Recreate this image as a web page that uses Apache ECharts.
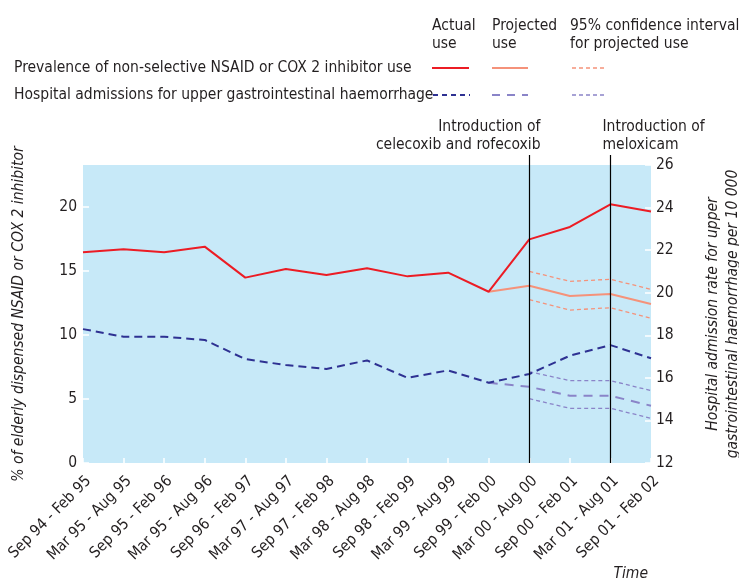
<!DOCTYPE html>
<html><head><meta charset="utf-8">
<script src="https://cdn.jsdelivr.net/npm/echarts@6/dist/echarts.min.js"></script>
<style>html,body{margin:0;padding:0;background:#fff}#c{width:739px;height:581px}</style>
</head><body><div id="c"></div>
<script>
const categories = ['Sep 94 - Feb 95','Mar 95 - Aug 95','Sep 95 - Feb 96','Mar 95 - Aug 96','Sep 96 - Feb 97','Mar 97 - Aug 97','Sep 97 - Feb 98','Mar 98 - Aug 98','Sep 98 - Feb 99','Mar 99 - Aug 99','Sep 99 - Feb 00','Mar 00 - Aug 00','Sep 00 - Feb 01','Mar 01 - Aug 01','Sep 01 - Feb 02'];
const prevActual    = [16.46,16.7,16.46,16.9,14.48,15.16,14.69,15.21,14.58,14.87,13.38,17.47,18.44,20.21,19.64];
const prevProjected = ['-','-','-','-','-','-','-','-','-','-',13.38,13.85,13.05,13.2,12.42];
const prevCIUpper   = ['-','-','-','-','-','-','-','-','-','-','-',14.97,14.19,14.35,13.57];
const prevCILower   = ['-','-','-','-','-','-','-','-','-','-','-',12.76,11.95,12.13,11.3];
const hospActual    = [18.29,17.93,17.93,17.78,16.88,16.6,16.42,16.82,16.0,16.35,15.77,16.18,17.04,17.54,16.92];
const hospProjected = ['-','-','-','-','-','-','-','-','-','-',15.77,15.58,15.16,15.16,14.69];
const hospCIUpper   = ['-','-','-','-','-','-','-','-','-','-','-',16.29,15.87,15.87,15.4];
const hospCILower   = ['-','-','-','-','-','-','-','-','-','-','-',15.02,14.57,14.57,14.1];
const leftAxisRange  = [0, 23.28];
const leftTicks      = [0, 5, 10, 15, 20];
const rightAxisRange = [12, 26];
const events = [
  {cat:'Mar 00 - Aug 00', text:'Introduction of\ncelecoxib and rofecoxib', align:'right'},
  {cat:'Mar 01 - Aug 01', text:'Introduction of\nmeloxicam', align:'left'}
];
const legendRows = ['Prevalence of non-selective NSAID or COX 2 inhibitor use','Hospital admissions for upper gastrointestinal haemorrhage'];
const legendCols = ['Actual\nuse','Projected\nuse','95% confidence interval\nfor projected use'];

const FONT = "'Liberation Sans Narrow','DejaVu Sans Condensed','Arial Narrow',sans-serif";
const FS = 15.5;
const TXT = '#231f20';
const RED='#ec1c24', SALMON='#f5927a', NAVY='#2e3192', LAV='#8a84c8';

const chart = echarts.init(document.getElementById('c'), null, {renderer:'canvas'});
function line(name, data, yi, color, width, dash, z){
  return {name, type:'line', data, yAxisIndex:yi, symbol:'none', z:z||2, silent:true,
    lineStyle:{color, width, type: dash||'solid'}};
}
chart.setOption({
  animation:false,
  textStyle:{fontFamily:FONT},
  grid:{left:83,right:88,top:165,bottom:118,show:true,backgroundColor:'#c7e9f8',borderWidth:0,
        containLabel:false,outerBoundsMode:'none'},
  xAxis:{type:'category',data:categories,boundaryGap:false,
    axisLine:{show:false},
    axisTick:{show:true,inside:true,length:5,lineStyle:{color:'#fff',width:1.5},interval:0},
    axisLabel:{rotate:45,interval:0,fontSize:FS,color:TXT,fontFamily:FONT,margin:10,verticalAlign:'top'}},
  yAxis:[
    {type:'value',min:leftAxisRange[0],max:leftAxisRange[1],splitLine:{show:false},
     axisLine:{show:false},
     axisTick:{show:true,inside:true,length:6,lineStyle:{color:'#fff',width:1.5},customValues:leftTicks},
     axisLabel:{fontSize:FS,color:TXT,fontFamily:FONT,margin:6,customValues:leftTicks},
     name:'% of elderly dispensed NSAID or COX 2 inhibitor',nameLocation:'middle',nameGap:56,nameRotate:90,
     nameMoveOverlap:false,
     nameTextStyle:{fontSize:FS,fontStyle:'italic',color:TXT,fontFamily:FONT}},
    {type:'value',position:'right',min:rightAxisRange[0],max:rightAxisRange[1],interval:2,splitLine:{show:false},
     axisLine:{show:false},axisTick:{show:true,inside:true,length:6,lineStyle:{color:'#fff',width:1.5}},
     axisLabel:{fontSize:FS,color:TXT,fontFamily:FONT,margin:5},
     name:'Hospital admission rate for upper\ngastrointestinal haemorrhage per 10 000',nameLocation:'middle',nameGap:52,nameRotate:90,
     nameMoveOverlap:false,
     nameTextStyle:{fontSize:FS,fontStyle:'italic',color:TXT,fontFamily:FONT,lineHeight:20}}
  ],
  series:[
    line('prevCIU',prevCIUpper,0,SALMON,1.3,[4,3]),
    line('prevCIL',prevCILower,0,SALMON,1.3,[4,3]),
    line('hospCIU',hospCIUpper,1,LAV,1.3,[4,3]),
    line('hospCIL',hospCILower,1,LAV,1.3,[4,3]),
    line('prevProj',prevProjected,0,SALMON,2,'solid',3),
    line('hospProj',hospProjected,1,LAV,2,[9,7],3),
    line('prevAct',prevActual,0,RED,2,'solid',4),
    line('hospAct',hospActual,1,NAVY,2,[8,5],4)
  ]
});

const g = [];
const gridTop = 165, gridBottom = 581-118;
events.forEach(e=>{
  const x = Math.round(chart.convertToPixel({xAxisIndex:0}, e.cat)) + 0.5;
  g.push({type:'line',shape:{x1:x,y1:gridTop-10,x2:x,y2:gridBottom},style:{stroke:'#000',lineWidth:1.2},z:10});
  g.push({type:'text',style:{text:e.text,x: e.align==='right'? x+11 : x-8, y: gridTop-11,
    align:e.align, verticalAlign:'bottom', font:FS+'px '+FONT, fill:TXT, lineHeight:18},z:10});
});
const colX = [432, 492, 570];
legendCols.forEach((t,i)=>g.push({type:'text',style:{text:t,x:colX[i],y:17,align:'left',verticalAlign:'top',font:FS+'px '+FONT,fill:TXT,lineHeight:18}}));
const rowY = [68, 95];
legendRows.forEach((t,i)=>g.push({type:'text',style:{text:t,x:14,y:rowY[i],align:'left',verticalAlign:'middle',font:FS+'px '+FONT,fill:TXT}}));
const sw = [
  [[432,469,RED,2,null],[492,528,SALMON,2,null],[572,606,SALMON,1.3,[4,3]]],
  [[433,470,NAVY,2,[5,4]],[492,528,LAV,2,[8,7]],[572,606,LAV,1.3,[4,3]]]
];
sw.forEach((row,ri)=>row.forEach(s=>g.push({type:'line',shape:{x1:s[0],y1:rowY[ri],x2:s[1],y2:rowY[ri]},
  style:{stroke:s[2],lineWidth:s[3],lineDash:s[4]}})));
g.push({type:'text',style:{text:'Time',x:648,y:574,align:'right',verticalAlign:'middle',font:'italic '+FS+'px '+FONT,fill:TXT}});
chart.setOption({graphic:g});
</script></body></html>
